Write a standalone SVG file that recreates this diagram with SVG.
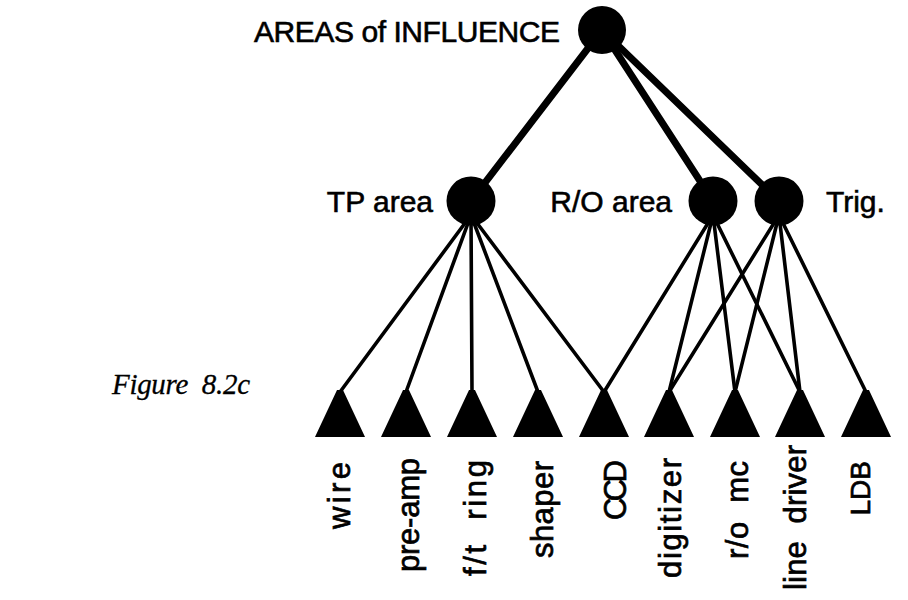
<svg xmlns="http://www.w3.org/2000/svg" width="908" height="600" viewBox="0 0 908 600">
  <style>
    .lbl { font-family: "Liberation Sans", Arial, sans-serif; font-size: 30px; fill: #000; stroke: #000; stroke-width: 0.6; }
    .leaf { font-family: "Liberation Sans", Arial, sans-serif; font-size: 31px; fill: #000; stroke: #000; stroke-width: 0.7; text-anchor: end; }
    .cap { font-family: "Liberation Serif", "Times New Roman", serif; font-style: italic; font-size: 29px; fill: #000; stroke: #000; stroke-width: 0.3; }
    .thick { stroke: #000; stroke-width: 7; stroke-linecap: round; fill: none; }
    .thin { stroke: #000; stroke-width: 3.6; stroke-linecap: round; fill: none; }
    .dot { fill: #000; }
  </style>
  <defs>
    <path id="tri" d="M -25 0 L -3 -47 L 3 -47 L 25 0 Z" fill="#000"/>
  </defs>
  <rect width="908" height="600" fill="#fff"/>

  <g id="connectors">
    <!-- root to areas -->
    <line class="thick" x1="602" y1="30" x2="471" y2="201"/>
    <line class="thick" x1="602" y1="30" x2="713" y2="201"/>
    <line class="thick" x1="602" y1="30" x2="779" y2="201"/>
    <!-- TP area -->
    <line class="thin" x1="471" y1="215" x2="340" y2="392"/>
    <line class="thin" x1="471" y1="215" x2="406" y2="392"/>
    <line class="thin" x1="471" y1="215" x2="472" y2="392"/>
    <line class="thin" x1="471" y1="215" x2="538" y2="392"/>
    <line class="thin" x1="471" y1="215" x2="604" y2="392"/>
    <!-- R/O area -->
    <line class="thin" x1="713" y1="215" x2="604" y2="392"/>
    <line class="thin" x1="713" y1="215" x2="669" y2="392"/>
    <line class="thin" x1="713" y1="215" x2="735" y2="392"/>
    <line class="thin" x1="713" y1="215" x2="800" y2="392"/>
    <!-- Trig. -->
    <line class="thin" x1="779" y1="215" x2="669" y2="392"/>
    <line class="thin" x1="779" y1="215" x2="735" y2="392"/>
    <line class="thin" x1="779" y1="215" x2="800" y2="392"/>
    <line class="thin" x1="779" y1="215" x2="866" y2="392"/>
  </g>

  <g id="root">
    <circle class="dot" cx="602" cy="30" r="24"/>
    <text class="lbl" x="560" y="42" text-anchor="end" textLength="306">AREAS of INFLUENCE</text>
  </g>
  <g id="tp-area">
    <circle class="dot" cx="471" cy="201" r="24.5"/>
    <text class="lbl" x="433" y="212" text-anchor="end">TP area</text>
  </g>
  <g id="ro-area">
    <circle class="dot" cx="713" cy="201" r="24.5"/>
    <text class="lbl" x="672" y="212" text-anchor="end">R/O area</text>
  </g>
  <g id="trig">
    <circle class="dot" cx="779" cy="201" r="24.5"/>
    <text class="lbl" x="826" y="212">Trig.</text>
  </g>

  <g id="wire"><use href="#tri" x="340" y="437"/><text class="leaf" transform="translate(350 462) rotate(-90)" textLength="67">wire</text></g>
  <g id="pre-amp"><use href="#tri" x="406" y="437"/><text class="leaf" transform="translate(419 458) rotate(-90)" textLength="114">pre-amp</text></g>
  <g id="ft-ring"><use href="#tri" x="472" y="437"/><text class="leaf" transform="translate(486 460) rotate(-90)" textLength="116" xml:space="preserve">f/t  ring</text></g>
  <g id="shaper"><use href="#tri" x="538" y="437"/><text class="leaf" transform="translate(553 461) rotate(-90)" textLength="97">shaper</text></g>
  <g id="ccd"><use href="#tri" x="604" y="437"/><text class="leaf" transform="translate(626 460) rotate(-90)" textLength="60">CCD</text></g>
  <g id="digitizer"><use href="#tri" x="669" y="437"/><text class="leaf" transform="translate(681 458) rotate(-90)" textLength="120">digitizer</text></g>
  <g id="ro-mc"><use href="#tri" x="735" y="437"/><text class="leaf" transform="translate(748 461) rotate(-90)" textLength="98" xml:space="preserve">r/o  mc</text></g>
  <g id="line-driver"><use href="#tri" x="800" y="437"/><text class="leaf" transform="translate(806 445) rotate(-90)" textLength="145" xml:space="preserve">line  driver</text></g>
  <g id="ldb"><use href="#tri" x="866" y="437"/><text class="leaf" transform="translate(870 461) rotate(-90)" style="font-size:28px">LDB</text></g>

  <text class="cap" x="112" y="394" xml:space="preserve" textLength="138">Figure  8.2c</text>
</svg>
